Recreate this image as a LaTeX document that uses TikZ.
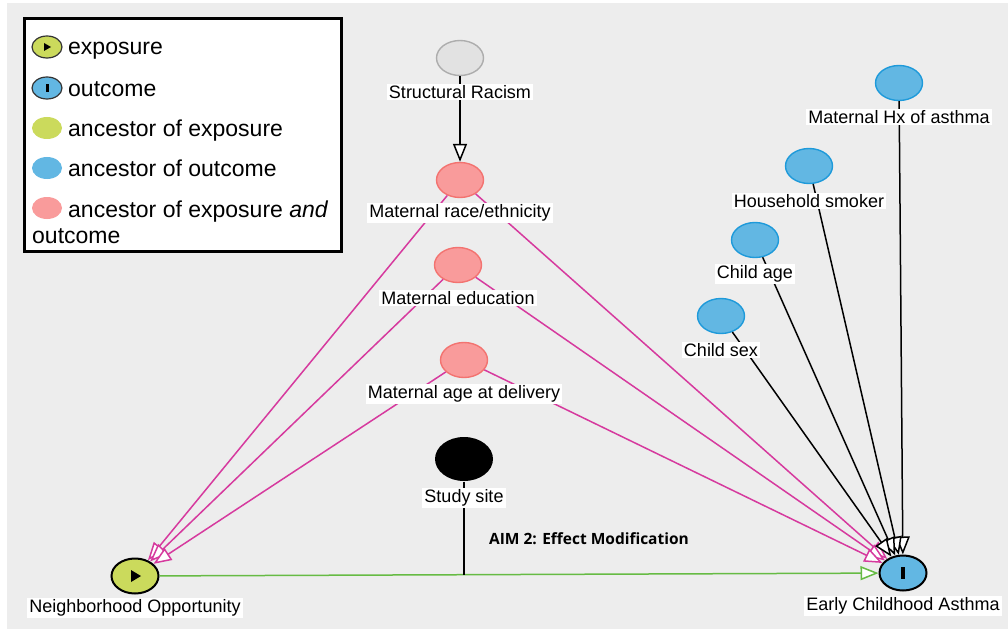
\documentclass[tikz,border=0pt]{standalone}
\usepackage{fontspec}
\setmainfont{Liberation Sans}
\newfontfamily\aimfont{Open Sans}
\usetikzlibrary{shapes.geometric,arrows.meta}
\definecolor{bggray}{HTML}{EDEDED}
\definecolor{ancfill}{HTML}{F99B9B}
\definecolor{ancline}{HTML}{F37370}
\definecolor{outfill}{HTML}{62B7E3}
\definecolor{outline}{HTML}{1E9ADA}
\definecolor{expfill}{HTML}{CBDA5C}
\definecolor{srfill}{HTML}{E2E2E2}
\definecolor{srline}{HTML}{ADADAD}
\definecolor{biasedge}{HTML}{D63A9E}
\definecolor{causaledge}{HTML}{66BB44}
\begin{document}
\begin{tikzpicture}[x=1pt, y=-1pt,
    var/.style={ellipse, minimum width=47pt, minimum height=35pt, inner sep=0pt, line width=1.4pt},
    anc/.style={var, draw=ancline, fill=ancfill},
    aout/.style={var, draw=outline, fill=outfill},
    lbl/.style={fill=white, inner xsep=2pt, inner ysep=1.5pt, font=\fontsize{18}{21}\selectfont},
    arr/.style={line width=1.5pt, -{Triangle[length=18pt, width=14pt, fill=white]}},
    legtext/.style={anchor=base west, inner sep=0pt, font=\fontsize{23}{26}\selectfont}]
  % background
  \fill[white] (0,0) rectangle (1008,631);
  \fill[bggray] (7,3) rectangle (1008,629);

  % variables
  \node[var, draw=srline, fill=srfill] (sr) at (460,58) {};
  \node[anc] (race) at (460,180) {};
  \node[anc] (edu) at (458,265) {};
  \node[anc] (mage) at (464,360) {};
  \node[var, fill=black, minimum width=58pt, minimum height=44pt] (ss) at (464,459) {};
  \node[aout] (mhx) at (899,83) {};
  \node[aout] (smk) at (809,166) {};
  \node[aout] (cage) at (755,240) {};
  \node[aout] (csex) at (721,316) {};
  \node[var, draw=black, line width=2pt, fill=expfill] (nbo) at (135,576) {};
  \node[var, draw=black, line width=2pt, fill=outfill] (eca) at (903,573) {};
  \fill ([shift={(-4,-6)}]nbo.center) -- ++(0,12) -- ++(10,-6) -- cycle;
  \fill ([shift={(-2,-6)}]eca.center) rectangle ++(4,12);

  % edges
  \draw[arr] (sr) -- (race);
  \foreach \m in {race,edu,mage} {
    \draw[arr, biasedge] (\m) -- (nbo);
    \draw[arr, biasedge] (\m) -- (eca);
  }
  \foreach \c in {mhx,smk,cage,csex}
    \draw[arr] (\c) -- (eca);
  \draw[arr, causaledge] (nbo) -- (eca);
  \coordinate (mod) at (464,575);
  \draw[line width=1.5pt] (ss) -- (mod);

  % labels
  \node[lbl] (srl) at (460,92) {Structural Racism};
  \node[lbl] (racel) at (460,213) {Maternal race/ethnicity};
  \node[lbl] (edul) at (458,298) {Maternal education};
  \node[lbl] (magel) at (464,394) {Maternal age at delivery};
  \node[lbl] (ssl) at (464,498) {Study site};
  \node[lbl] (mhxl) at (899,117) {Maternal Hx of asthma};
  \node[lbl] (smkl) at (809,201) {Household smoker};
  \node[lbl] (cagel) at (755,274) {Child age};
  \node[lbl] (csexl) at (721,350) {Child sex};
  \node[lbl] (nbol) at (135,608) {Neighborhood Opportunity};
  \node[lbl] (ecal) at (903,606) {Early Childhood Asthma};
  \node[font=\aimfont\bfseries\fontsize{15.5}{18}\selectfont] (aim) at (589,539) {AIM 2: Effect Modification};

  % legend
  \draw[line width=3pt, fill=white] (24,19) rectangle (341,251);
  \node[var, minimum width=30pt, minimum height=22pt, draw=black!80, line width=1.2pt, fill=expfill] (lgexp) at (47,47) {};
  \fill ([shift={(-3,-4)}]lgexp.center) -- ++(0,8) -- ++(7,-4) -- cycle;
  \node[var, minimum width=30pt, minimum height=22pt, draw=black!80, line width=1.2pt, fill=outfill] (lgout) at (47,88) {};
  \fill ([shift={(-1.5,-4)}]lgout.center) rectangle ++(3,8);
  \node[var, minimum width=30pt, minimum height=22pt, line width=0pt, fill=expfill] (lganc) at (47,128) {};
  \node[var, minimum width=30pt, minimum height=22pt, line width=0pt, fill=outfill] (lgaout) at (47,168) {};
  \node[var, minimum width=30pt, minimum height=22pt, line width=0pt, fill=ancfill] (lgboth) at (47,208) {};
  \node[legtext] at (68,55) {exposure};
  \node[legtext] at (68,97) {outcome};
  \node[legtext] at (68,137) {ancestor of exposure};
  \node[legtext] at (68,177) {ancestor of outcome};
  \node[legtext] at (68,217) {ancestor of exposure \emph{and}};
  \node[legtext] at (32,243) {outcome};
\end{tikzpicture}
\end{document}
